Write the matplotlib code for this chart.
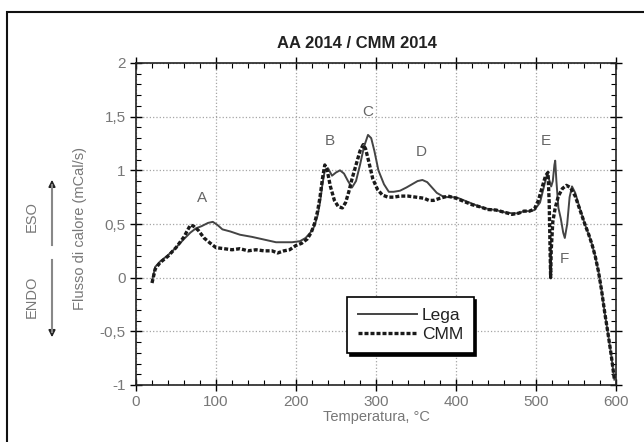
import matplotlib
matplotlib.use("Agg")
import matplotlib.pyplot as plt
from matplotlib.patches import Rectangle
from matplotlib.ticker import MultipleLocator, FuncFormatter

# ---- data ----
cmm_T = [20, 24, 30, 40, 50, 60, 65, 68, 72, 78, 85, 93, 100, 110, 120, 130, 140, 150,
         160, 170, 177, 185, 192, 200, 207, 214, 219, 223, 227, 230, 233, 236, 239, 243,
         248, 253, 258, 262, 266, 270, 275, 280, 284, 287, 291, 296, 302, 308, 315, 322,
         330, 340, 350, 360, 366, 372, 380, 390, 395, 400, 410, 420, 430, 440, 450, 460,
         470, 478, 485, 492, 498, 503, 508, 512, 515, 516.5, 517.5, 518.3, 519, 521, 524,
         528, 533, 538, 543, 549, 555, 561, 566, 570, 574, 578, 582, 586, 590, 594, 598]
cmm_v = [-0.05, 0.08, 0.14, 0.20, 0.28, 0.38, 0.45, 0.49, 0.48, 0.44, 0.37, 0.32, 0.28,
         0.27, 0.26, 0.27, 0.25, 0.26, 0.25, 0.25, 0.23, 0.25, 0.26, 0.30, 0.32, 0.36,
         0.42, 0.50, 0.62, 0.75, 0.92, 1.05, 1.00, 0.85, 0.72, 0.66, 0.65, 0.70, 0.80,
         0.92, 1.05, 1.18, 1.24, 1.20, 1.08, 0.92, 0.82, 0.77, 0.75, 0.75, 0.76, 0.76,
         0.75, 0.74, 0.72, 0.72, 0.74, 0.76, 0.75, 0.74, 0.71, 0.68, 0.66, 0.635, 0.63,
         0.61, 0.59, 0.60, 0.62, 0.62, 0.64, 0.72, 0.85, 0.95, 0.98, 0.70, 0.30, 0.00,
         0.25, 0.52, 0.65, 0.76, 0.83, 0.86, 0.84, 0.76, 0.63, 0.50, 0.40, 0.31, 0.20,
         0.06, -0.12, -0.33, -0.52, -0.72, -0.95]

lega_T = [20, 24, 30, 40, 50, 60, 68, 75, 82, 90, 96, 102, 108, 118, 130, 145, 160, 175,
          185, 195, 205, 212, 218, 223, 227, 230, 233, 236, 240, 245, 250, 255, 260, 265,
          270, 275, 280, 285, 290, 294, 298, 303, 310, 316, 322, 330, 338, 345, 352, 358,
          364, 370, 376, 383, 390, 400, 410, 420, 430, 440, 450, 460, 470, 478, 485, 492,
          498, 505, 510, 514, 517, 519, 521, 523, 524, 525.5, 528, 531, 534, 536, 539,
          542, 545, 549, 555, 561, 566, 570, 574, 578, 582, 586, 590, 594, 598]
lega_v = [-0.03, 0.10, 0.15, 0.21, 0.28, 0.36, 0.42, 0.46, 0.48, 0.51, 0.52, 0.49, 0.45,
          0.43, 0.40, 0.38, 0.355, 0.33, 0.33, 0.33, 0.34, 0.37, 0.42, 0.48, 0.58, 0.70,
          0.87, 1.00, 1.02, 0.95, 0.98, 1.00, 0.97, 0.90, 0.84, 0.90, 1.05, 1.22, 1.33,
          1.30, 1.18, 1.00, 0.87, 0.80, 0.80, 0.81, 0.84, 0.87, 0.90, 0.91, 0.89, 0.84,
          0.79, 0.76, 0.75, 0.75, 0.72, 0.69, 0.66, 0.64, 0.63, 0.61, 0.60, 0.60, 0.62,
          0.62, 0.63, 0.70, 0.85, 0.97, 0.90, 0.85, 0.90, 1.05, 1.09, 0.90, 0.65, 0.55,
          0.42, 0.37, 0.50, 0.75, 0.85, 0.79, 0.64, 0.50, 0.40, 0.31, 0.20, 0.06, -0.12,
          -0.33, -0.52, -0.72, -0.95]

peak_labels = ["A", "B", "C", "D", "E", "F"]
peak_T = [82, 242, 290, 356, 512, 535]
peak_v = [0.745, 1.27, 1.54, 1.175, 1.27, 0.17]

series_names = ["Lega", "CMM"]
title = "AA 2014 / CMM 2014"
xlabel = "Temperatura, °C"
ylabel = "Flusso di calore (mCal/s)"

# ---- figure ----
plt.rcParams['font.family'] = ['Liberation Sans', 'DejaVu Sans']
fig = plt.figure(figsize=(6.44, 4.42), dpi=100)
ax = fig.add_axes([136/644, 1-385/442, 480/644, 322/442])

ax.plot(lega_T, lega_v, color='#444444', lw=1.4, label=series_names[0], zorder=3)
ax.plot(cmm_T, cmm_v, color='#1a1a1a', lw=2.4, linestyle=(0, (1.2, 0.6)),
        label=series_names[1], zorder=4)

ax.set_xlim(0, 600)
ax.set_ylim(-1, 2)
ax.xaxis.set_major_locator(MultipleLocator(100))
ax.xaxis.set_minor_locator(MultipleLocator(20))
ax.yaxis.set_major_locator(MultipleLocator(0.5))
ax.yaxis.set_minor_locator(MultipleLocator(0.1))
ax.yaxis.set_major_formatter(FuncFormatter(lambda v, p: ("%g" % v).replace('.', ',')))
ax.xaxis.set_major_formatter(FuncFormatter(lambda v, p: "%g" % v))
ax.tick_params(which='major', direction='inout', length=9, width=1.0,
               top=True, right=True, labelsize=11, labelcolor='#777777', pad=3)
ax.tick_params(which='minor', direction='in', length=3.5, width=0.8,
               top=True, right=True)
ax.grid(True, which='major', linestyle=':', color='#a5a5a5', lw=0.9)
for s in ax.spines.values():
    s.set_linewidth(1.2)
    s.set_color('#222222')

for lab, t, v in zip(peak_labels, peak_T, peak_v):
    ax.text(t, v, lab, color='#666666', fontsize=11, ha='center', va='center')

leg = ax.legend(loc='lower left', bbox_to_anchor=(0.44, 0.10), fontsize=12.5,
                frameon=True, fancybox=False, shadow={'color': 'black', 'alpha': 1.0},
                edgecolor='black', handlelength=3.4, borderpad=0.6,
                labelspacing=0.25, handletextpad=0.3, borderaxespad=0)
leg.get_frame().set_linewidth(1.2)
for t in leg.get_texts():
    t.set_color('#222222')

fig.text(357/644, 1-43/442, title, ha='center', va='center',
         fontsize=12, fontweight='bold', color='#222222')
fig.text(376/644, 1-417/442, xlabel, ha='center', va='center',
         fontsize=10.5, color='#777777')
fig.text(80/644, 1-228/442, ylabel, ha='center', va='center', rotation=90,
         fontsize=10.5, color='#777777')

fig.text(32/644, 1-217/442, "ESO", ha='center', va='center', rotation=90,
         fontsize=10.5, color='#777777')
fig.text(32/644, 1-297/442, "ENDO", ha='center', va='center', rotation=90,
         fontsize=10.5, color='#777777')
fig.add_artist(plt.Line2D([52/644, 52/644], [1-245/442, 1-185/442],
                          color='#888888', lw=1.5))
fig.add_artist(plt.Line2D([52/644, 52/644], [1-260/442, 1-332/442],
                          color='#888888', lw=1.5))
ax.annotate("", xy=(52/644, 1-177/442), xytext=(52/644, 1-190/442),
            xycoords='figure fraction', textcoords='figure fraction',
            arrowprops=dict(arrowstyle='-|>', color='#222222', lw=1.2,
                            mutation_scale=10))
ax.annotate("", xy=(52/644, 1-340/442), xytext=(52/644, 1-327/442),
            xycoords='figure fraction', textcoords='figure fraction',
            arrowprops=dict(arrowstyle='-|>', color='#222222', lw=1.2,
                            mutation_scale=10))

fig.add_artist(Rectangle((7/644, -0.1), 1.2, 0.973 + 0.1, transform=fig.transFigure,
                         fill=False, edgecolor='#111111', lw=1.5, clip_on=False))

fig.savefig("out.png", dpi=100)
